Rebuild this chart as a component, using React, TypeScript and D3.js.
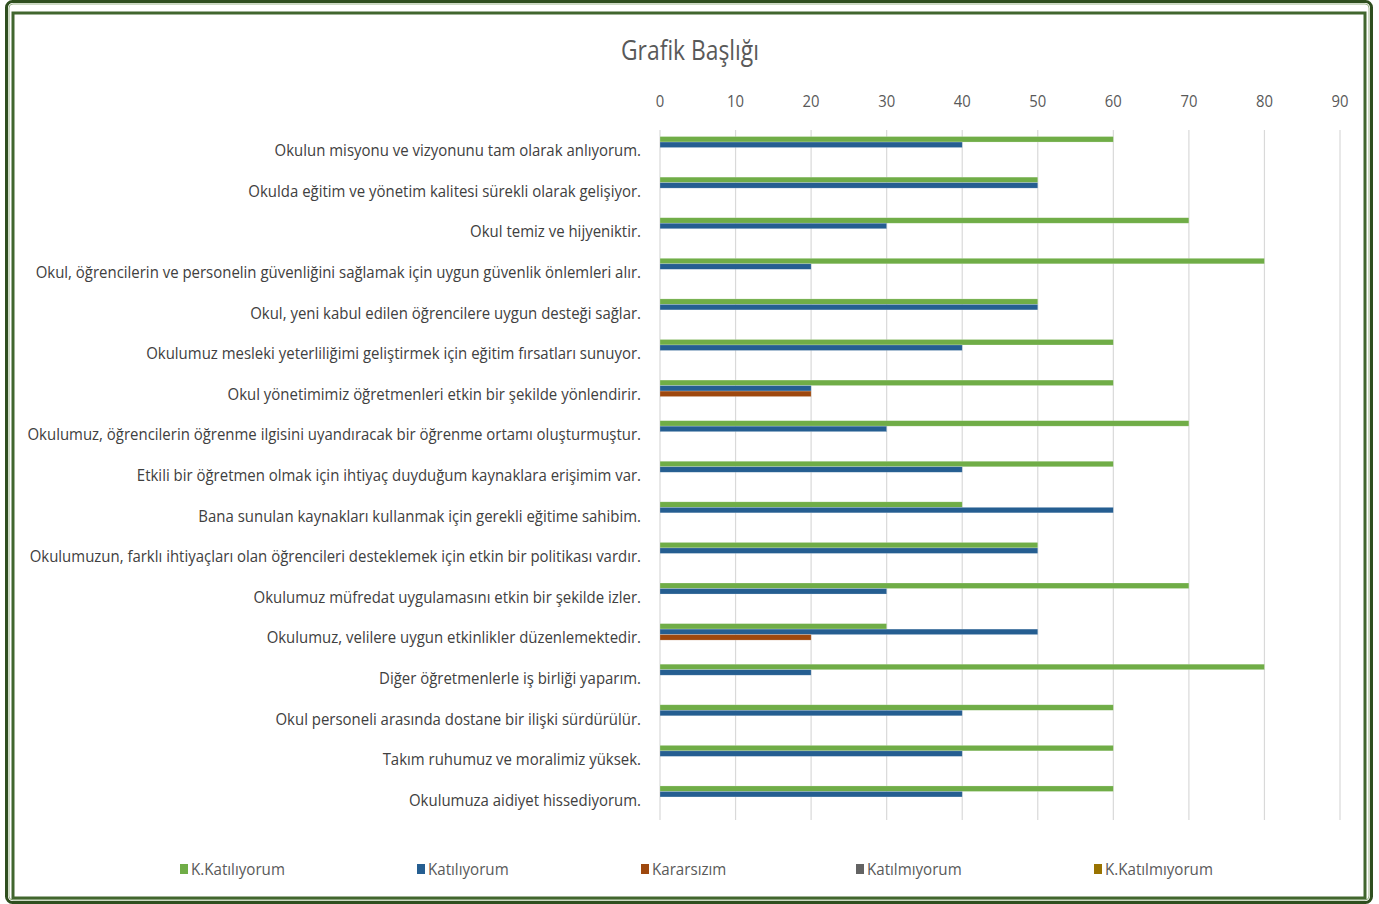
import { useMemo } from 'react'
import * as d3 from 'd3'

const CATEGORIES = [
  'Okulun misyonu ve vizyonunu tam olarak anlıyorum.',
  'Okulda eğitim ve yönetim kalitesi sürekli olarak gelişiyor.',
  'Okul temiz ve hijyeniktir.',
  'Okul, öğrencilerin ve personelin güvenliğini sağlamak için uygun güvenlik önlemleri alır.',
  'Okul, yeni kabul edilen öğrencilere uygun desteği sağlar.',
  'Okulumuz mesleki yeterliliğimi geliştirmek için eğitim fırsatları sunuyor.',
  'Okul yönetimimiz öğretmenleri etkin bir şekilde yönlendirir.',
  'Okulumuz, öğrencilerin öğrenme ilgisini uyandıracak bir öğrenme ortamı oluşturmuştur.',
  'Etkili bir öğretmen olmak için ihtiyaç duyduğum kaynaklara erişimim var.',
  'Bana sunulan kaynakları kullanmak için gerekli eğitime sahibim.',
  'Okulumuzun, farklı ihtiyaçları olan öğrencileri desteklemek için etkin bir politikası vardır.',
  'Okulumuz müfredat uygulamasını etkin bir şekilde izler.',
  'Okulumuz, velilere uygun etkinlikler düzenlemektedir.',
  'Diğer öğretmenlerle iş birliği yaparım.',
  'Okul personeli arasında dostane bir ilişki sürdürülür.',
  'Takım ruhumuz ve moralimiz yüksek.',
  'Okulumuza aidiyet hissediyorum.',
]

const SERIES = ['K.Katılıyorum', 'Katılıyorum', 'Kararsızım', 'Katılmıyorum', 'K.Katılmıyorum']
const COLORS = ['#70AD47', '#255E91', '#9E480E', '#636363', '#997300']

const kKatiliyorum = [60, 50, 70, 80, 50, 60, 60, 70, 60, 40, 50, 70, 30, 80, 60, 60, 60]
const katiliyorum = [40, 50, 30, 20, 50, 40, 20, 30, 40, 60, 50, 30, 50, 20, 40, 40, 40]
const kararsizim = [0, 0, 0, 0, 0, 0, 20, 0, 0, 0, 0, 0, 20, 0, 0, 0, 0]
const katilmiyorum = [0, 0, 0, 0, 0, 0, 0, 0, 0, 0, 0, 0, 0, 0, 0, 0, 0]
const kKatilmiyorum = [0, 0, 0, 0, 0, 0, 0, 0, 0, 0, 0, 0, 0, 0, 0, 0, 0]

const VALUES = [kKatiliyorum, katiliyorum, kararsizim, katilmiyorum, kKatilmiyorum]
const TICKS = [0, 10, 20, 30, 40, 50, 60, 70, 80, 90]

const W = 1379
const H = 904
const FONT = "'Open Sans', 'Noto Sans', sans-serif"
const TEXT = '#595959'

// squeeze factor so a string rendered at `size` ends up `target` px wide
function squeeze(str: string, size: number, target: number) {
  const ctx = document.createElement('canvas').getContext('2d')
  if (!ctx) return 1
  ctx.font = `${size}px ${FONT}`
  return target / ctx.measureText(str).width
}

export default function App() {
  const x = d3.scaleLinear().domain([0, 90]).range([660, 1340])
  const y = d3.scaleBand<string>().domain(CATEGORIES).range([130, 820]).padding(0)
  const inner = d3
    .scaleBand<string>()
    .domain(SERIES)
    .range([0, y.bandwidth()])
    .paddingInner(0)
    .paddingOuter(1.19)

  const k = useMemo(
    () => ({
      label: squeeze(CATEGORIES[10], 17, 612),
      title: squeeze('Grafik Başlığı', 27, 138),
      legend: squeeze(SERIES[0], 17, 94),
      tick: squeeze('10', 17, 17),
    }),
    []
  )

  const legendX = [180, 417, 641, 856, 1094]

  return (
    <div style={{ position: 'absolute', left: 0, top: 0 }}>
      <svg width={W} height={H} style={{ display: 'block', background: '#fff' }}>
        {/* double frame */}
        <rect x={6.5} y={1.5} width={1365} height={901} rx={6} fill="none" stroke="#2f4f1f" strokeWidth={3} />
        <rect x={9} y={4} width={1360} height={896} rx={4} fill="none" stroke="#9cb58a" strokeWidth={1} />
        <rect x={13} y={13} width={1352} height={885} fill="none" stroke="#41662e" strokeWidth={3} />

        <text
          transform={`translate(690,60) scale(${k.title},1)`}
          textAnchor="middle"
          fontFamily={FONT}
          fontSize={27}
          fill={TEXT}
        >
          Grafik Başlığı
        </text>

        {TICKS.map((t) => (
          <g key={t}>
            <line x1={x(t)} x2={x(t)} y1={130} y2={820} stroke="#d9d9d9" strokeWidth={1.2} />
            <text
              transform={`translate(${x(t)},107) scale(${k.tick},1)`}
              textAnchor="middle"
              fontFamily={FONT}
              fontSize={17}
              fill={TEXT}
            >
              {t}
            </text>
          </g>
        ))}

        {CATEGORIES.map((c, i) => (
          <g key={c} transform={`translate(0,${y(c)})`}>
            {SERIES.map((s, j) =>
              VALUES[j][i] > 0 ? (
                <rect
                  key={s}
                  x={x(0)}
                  y={inner(s)}
                  width={x(VALUES[j][i]) - x(0)}
                  height={inner.bandwidth()}
                  fill={COLORS[j]}
                  stroke="#ffffff"
                  strokeOpacity={0.35}
                  strokeWidth={0.6}
                />
              ) : null
            )}
            <text
              transform={`translate(641,${y.bandwidth() / 2 + 6}) scale(${k.label},1)`}
              textAnchor="end"
              fontFamily={FONT}
              fontSize={17}
              fill="#404040"
            >
              {c}
            </text>
          </g>
        ))}

        {SERIES.map((s, j) => (
          <g key={s} transform={`translate(${legendX[j]},869)`}>
            <rect x={0} y={-5} width={8} height={10} fill={COLORS[j]} />
            <text
              transform={`translate(11,6) scale(${k.legend},1)`}
              fontFamily={FONT}
              fontSize={17}
              fill={TEXT}
            >
              {s}
            </text>
          </g>
        ))}
      </svg>
    </div>
  )
}
